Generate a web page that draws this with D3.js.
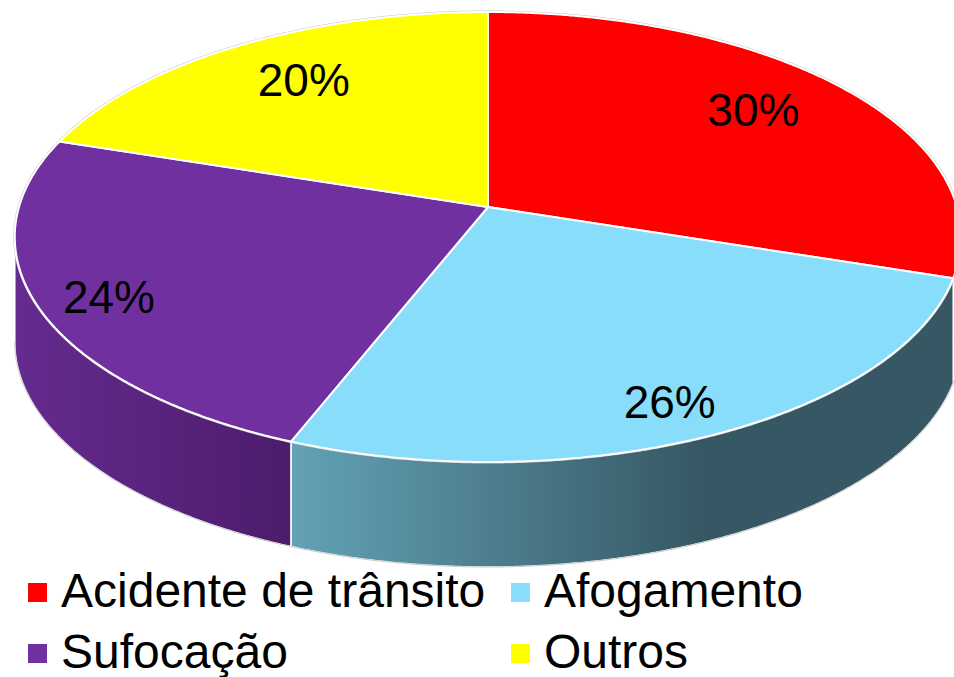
<!DOCTYPE html>
<html>
<head>
<meta charset="utf-8">
<script src="https://cdn.jsdelivr.net/npm/d3@7"></script>
<style>
  body { margin: 0; background: #fff; }
  text { font-family: "Liberation Sans", Arial, sans-serif; }
</style>
</head>
<body>
<div id="plot1"></div>
<script>
// data
const categories = ['Acidente de trânsito', 'Afogamento', 'Sufocação', 'Outros'];
const values = [30, 26, 24, 20];
const labels = ['30%', '26%', '24%', '20%'];

const width = 954;
const height = 677;

// styles
const topColors = ['#ff0000', '#87ddfa', '#7030a0', '#ffff00'];
const sideColors = [
    ['#9a0000', '#6e0000'],
    ['#63a2b6', '#365864'],
    ['#652b90', '#4c1c6b'],
    ['#b0b000', '#8a8a00']
];
const labelRadius = [0.74, 0.82, 0.85, 0.72];

// projected pie geometry (tilted disc with a bit of perspective)
const cx = 488, cy = 207;
const rx = 469, ry = 221, persp = 0.1333;
const depth = 105;

function proj(t, r) {
    const d = 1 + persp * r * Math.cos(t);
    return [cx + rx * r * Math.sin(t) / d, cy - ry * r * Math.cos(t) / d];
}

function arcPts(a0, a1, r, dy) {
    const n = Math.max(2, Math.ceil(Math.abs(a1 - a0) / 0.005));
    return d3.range(n + 1).map(i => {
        const p = proj(a0 + (a1 - a0) * i / n, r);
        return [p[0], p[1] + dy];
    });
}

const svg = d3.select('#plot1')
    .append('svg')
    .attr('width', width)
    .attr('height', height)
    .attr('viewBox', [0, 0, width, height]);

const defs = svg.append('defs');

const arcs = d3.pie().sort(null).value(d => d)(values);

const line = d3.line();

// sides: only the front half is visible
const tL = Math.acos(-persp);
const tR = 2 * Math.PI - tL;

const sides = svg.append('g');
arcs.forEach((a, i) => {
    const s = Math.max(a.startAngle, tL);
    const e = Math.min(a.endAngle, tR);
    if (s >= e) return;
    const top = arcPts(s, e, 1, 0);
    const bot = arcPts(e, s, 1, depth);
    const pts = top.concat(bot);
    const xs = d3.extent(pts, p => p[0]);
    const g = defs.append('linearGradient')
        .attr('id', 'side' + i)
        .attr('gradientUnits', 'userSpaceOnUse')
        .attr('x1', xs[0]).attr('x2', i === 1 ? xs[0] + (xs[1] - xs[0]) * 0.62 : xs[1])
        .attr('y1', 0).attr('y2', 0);
    g.append('stop').attr('offset', 0).attr('stop-color', sideColors[i][0]);
    g.append('stop').attr('offset', 1).attr('stop-color', sideColors[i][1]);
    sides.append('path')
        .attr('d', line(pts) + 'Z')
        .attr('fill', `url(#side${i})`)
        .attr('stroke', '#fff')
        .attr('stroke-width', 1.5)
        .attr('stroke-linejoin', 'round');
});

// soft outer edge
const bottomEdge = arcPts(tL, tR, 1, depth);
svg.append('path')
    .attr('d', line(bottomEdge))
    .attr('fill', 'none')
    .attr('stroke', '#c8c8c8')
    .attr('stroke-width', 1);

svg.append('path')
    .attr('d', line(arcPts(0, 2 * Math.PI, 1, 0)) + 'Z')
    .attr('fill', 'none')
    .attr('stroke', '#c8c8c8')
    .attr('stroke-width', 3);

// top faces
svg.append('g')
    .selectAll('path')
    .data(arcs)
    .join('path')
    .attr('d', d => line([[cx, cy]].concat(arcPts(d.startAngle, d.endAngle, 1, 0))) + 'Z')
    .attr('fill', (d, i) => topColors[i])
    .attr('stroke', '#fff')
    .attr('stroke-width', 2)
    .attr('stroke-linejoin', 'round');

// percentage labels
function labelPos(d, i) {
    const p = proj((d.startAngle + d.endAngle) / 2, labelRadius[i]);
    return [p[0], cy + (p[1] - cy) * 1.07];
}

svg.append('g')
    .selectAll('text')
    .data(arcs)
    .join('text')
    .attr('x', (d, i) => labelPos(d, i)[0])
    .attr('y', (d, i) => labelPos(d, i)[1])
    .attr('text-anchor', 'middle')
    .attr('dy', '0.36em')
    .attr('font-size', '46px')
    .attr('fill', '#000')
    .text((d, i) => labels[i]);

// legend, 2 columns
const legend = svg.append('g')
    .selectAll('g')
    .data(categories)
    .join('g')
    .attr('transform', (d, i) => `translate(${i % 2 ? 511 : 28},${583 + Math.floor(i / 2) * 61})`);

legend.append('rect')
    .attr('width', 19)
    .attr('height', 19)
    .attr('fill', (d, i) => topColors[i]);

legend.append('text')
    .attr('x', 33)
    .attr('y', 24)
    .attr('font-size', '48px')
    .attr('fill', '#000')
    .text(d => d);
</script>
</body>
</html>
